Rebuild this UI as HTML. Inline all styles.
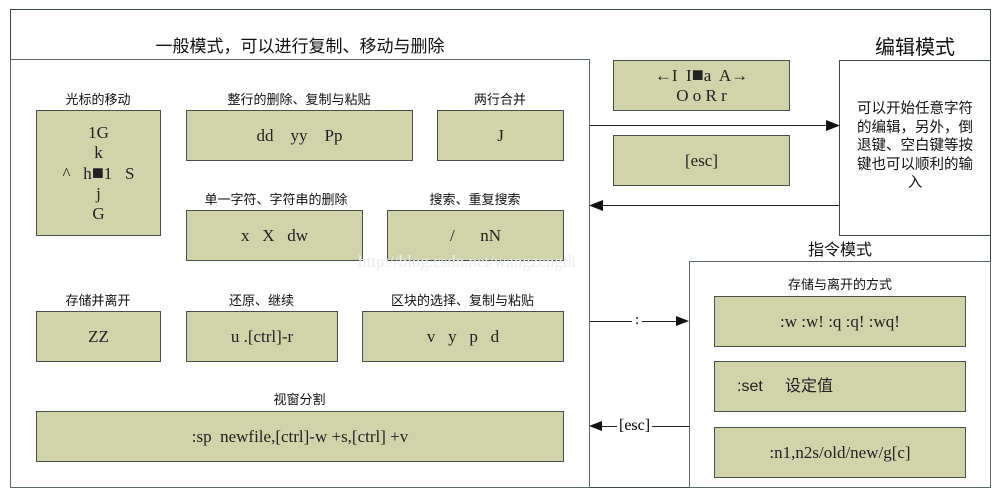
<!DOCTYPE html>
<html><head><meta charset="utf-8"><style>
body{margin:0;width:1006px;height:502px;background:#fff;position:relative;overflow:hidden;font-family:"Liberation Serif","Noto Serif CJK SC",serif;}
div{position:absolute;box-sizing:border-box;}
.f{border:1px solid #3a4a40;}
.g{background:#d1d3aa;border:1.5px solid #4a4f48;display:flex;align-items:center;justify-content:center;font-size:17px;color:#222;text-align:center;line-height:20px;white-space:pre;}
.g>span{display:block;}
.l{font-family:"Liberation Sans","Noto Sans CJK SC",sans-serif;font-size:13px;color:#111;text-align:center;white-space:nowrap;}
.h{height:1px;background:#222;}
.b{font-size:20px;}
</style></head><body>
<div class="f" style="left:10px;top:9px;width:981px;height:479px"></div>
<div class="f" style="left:10px;top:59px;width:580px;height:429px;border-color:#5a6a60;border-width:1.5px"></div>
<div class="l" style="left:100px;top:32px;width:400px;font-size:17px">一般模式，可以进行复制、移动与删除</div>
<div class="f" style="left:839px;top:60px;width:152px;height:176px"></div>
<div class="l" style="left:839px;top:31px;width:152px;font-size:20px">编辑模式</div>
<div class="l" style="left:839px;top:100px;width:152px;font-size:14.5px;line-height:18.5px">可以开始任意字符<br>的编辑，另外，倒<br>退键、空白键等按<br>键也可以顺利的输<br>入</div>
<div class="f" style="left:689px;top:261px;width:302px;height:227px;border-color:#5a6a60"></div>
<div class="l" style="left:760px;top:236px;width:160px;font-size:16px">指令模式</div>

<div class="l" style="left:36px;top:89px;width:124px">光标的移动</div>
<div class="g" style="left:36px;top:110px;width:125px;height:126px"><span>1G
k
^   h<span class="b">■</span>1   S
j
G</span></div>
<div class="l" style="left:186px;top:89px;width:226px">整行的删除、复制与粘贴</div>
<div class="g" style="left:186px;top:110px;width:227px;height:51px">dd    yy    Pp</div>
<div class="l" style="left:437px;top:89px;width:126px">两行合并</div>
<div class="g" style="left:437px;top:110px;width:127px;height:51px">J</div>
<div class="l" style="left:176px;top:189px;width:200px">单一字符、字符串的删除</div>
<div class="g" style="left:186px;top:210px;width:177px;height:51px">x   X   dw</div>
<div class="l" style="left:387px;top:189px;width:176px">搜索、重复搜索</div>
<div class="g" style="left:387px;top:210px;width:177px;height:51px">/      nN</div>
<div class="l" style="left:36px;top:290px;width:124px">存储并离开</div>
<div class="g" style="left:36px;top:311px;width:125px;height:51px">ZZ</div>
<div class="l" style="left:186px;top:290px;width:151px">还原、继续</div>
<div class="g" style="left:186px;top:311px;width:152px;height:51px">u .[ctrl]-r</div>
<div class="l" style="left:362px;top:290px;width:201px">区块的选择、复制与粘贴</div>
<div class="g" style="left:362px;top:311px;width:202px;height:51px">v   y   p   d</div>
<div class="l" style="left:36px;top:389px;width:527px">视窗分割</div>
<div class="g" style="left:36px;top:411px;width:528px;height:51px">:sp  newfile,[ctrl]-w +s,[ctrl] +v</div>

<div class="g" style="left:613px;top:60px;width:177px;height:51px"><span>←I  I<span class="b">■</span>a  A→
O o R r</span></div>
<div class="g" style="left:613px;top:135px;width:177px;height:51px">[esc]</div>
<div class="h" style="left:590px;top:125px;width:240px"></div>
<svg style="position:absolute;left:826px;top:120px" width="14" height="11"><polygon points="0,0 14,5.5 0,11" fill="#111"/></svg>
<div class="h" style="left:598px;top:205px;width:241px"></div>
<svg style="position:absolute;left:589px;top:200px" width="14" height="11"><polygon points="14,0 0,5.5 14,11" fill="#111"/></svg>

<div class="l" style="left:714px;top:274px;width:252px">存储与离开的方式</div>
<div class="g" style="left:714px;top:296px;width:252px;height:51px">:w :w! :q :q! :wq!</div>
<div class="g" style="left:714px;top:361px;width:252px;height:51px;justify-content:flex-start;padding-left:22px;font-family:'Liberation Sans','Noto Sans CJK SC',sans-serif;font-size:16px">:set     设定值</div>
<div class="g" style="left:714px;top:427px;width:252px;height:51px">:n1,n2s/old/new/g[c]</div>
<div class="h" style="left:590px;top:321px;width:90px"></div>
<div style="left:632px;top:312px;background:#fff;font-size:15px;padding:0 3px">:</div>
<svg style="position:absolute;left:676px;top:316px" width="13" height="10"><polygon points="0,0 13,5 0,10" fill="#111"/></svg>
<div class="h" style="left:598px;top:426px;width:91px"></div>
<svg style="position:absolute;left:589px;top:421px" width="13" height="10"><polygon points="13,0 0,5 13,10" fill="#111"/></svg>
<div style="left:617px;top:416px;background:#fff;font-size:16px;padding:0 2px;line-height:20px">[esc]</div>

<div style="left:358px;top:252px;font-size:17px;color:#ececec;white-space:nowrap">http://blog.csdn.net/wangzengdi</div>
</body></html>
